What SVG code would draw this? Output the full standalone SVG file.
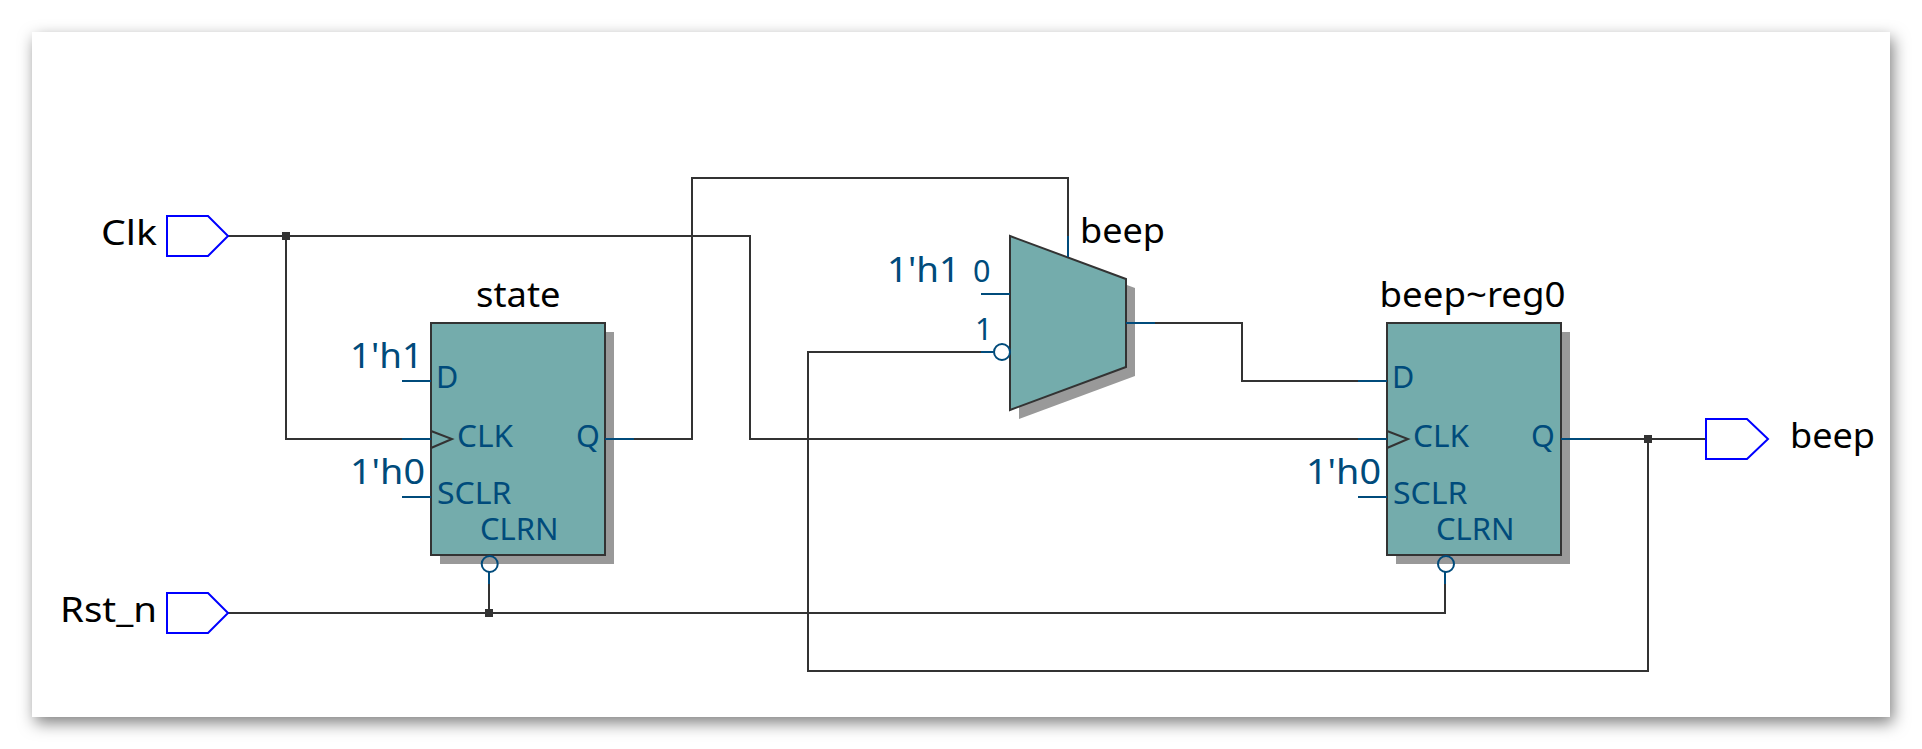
<svg xmlns="http://www.w3.org/2000/svg" width="1922" height="749" viewBox="0 0 1922 749">
<defs>
<filter id="pageShadow" x="-5%" y="-10%" width="110%" height="120%"><feDropShadow dx="3" dy="6" stdDeviation="8" flood-color="#000" flood-opacity="0.5"/></filter>
</defs>
<style>
text{font-family:"Noto Sans","Open Sans","Liberation Sans",sans-serif}
.name{font-size:35px;fill:#000}
.const{font-size:35px;fill:#004b7b}
.pin{font-size:30.500px;fill:#004b7b}
.wire{fill:none;stroke:#333;stroke-width:2}
.stub{fill:none;stroke:#004b7b;stroke-width:2}
.body{fill:#74acac;stroke:#333;stroke-width:2}
.shadow{fill:#999}
.port{fill:#fff;stroke:#00f;stroke-width:2}
.tri{fill:none;stroke:#333;stroke-width:2}
.bub{fill:none;stroke:#004b7b;stroke-width:2}
.dot{fill:#333}
</style>
<rect x="0" y="0" width="1922" height="749" fill="#fff"/>
<rect id="page" x="32" y="32" width="1858" height="685" fill="#fff" filter="url(#pageShadow)"/>
<g id="connectors">
<path class="wire" d="M228 236H750V439H1358"/>
<path class="wire" d="M286 236V439H402"/>
<path class="wire" d="M634 439H692V178H1068V236"/>
<path class="wire" d="M1155 323H1242V381H1358"/>
<path class="wire" d="M228 613H1445V584"/>
<path class="wire" d="M489 613V584"/>
<path class="wire" d="M1590 439H1706"/>
<path class="wire" d="M1648 439V671H808V352H981"/>
<rect class="dot" x="282" y="232" width="8" height="8"/>
<rect class="dot" x="485" y="609" width="8" height="8"/>
<rect class="dot" x="1644" y="435" width="8" height="8"/>
</g>
<g id="in-clk"><path class="port" d="M167 216H208L228 236L208 256H167Z"/><text class="name" x="101" y="245" textLength="56" lengthAdjust="spacingAndGlyphs">Clk</text></g>
<g id="in-rst"><path class="port" d="M167 593H208L228 613L208 633H167Z"/><text class="name" x="60" y="622" textLength="97" lengthAdjust="spacingAndGlyphs">Rst_n</text></g>
<g id="out-beep"><path class="port" d="M1706 419H1747L1768 439L1747 459H1706Z"/><text class="name" x="1790" y="448" textLength="85" lengthAdjust="spacingAndGlyphs">beep</text></g>
<g id="state">
<rect class="shadow" x="440" y="332" width="174" height="232"/>
<rect class="body" x="431" y="323" width="174" height="232"/>
<path class="stub" d="M402 381H431M402 439H431M402 497H431M605 439H634M489 572V584"/>
<path class="tri" d="M431 431L452 439L431 448"/>
<circle class="bub" cx="489.700" cy="564" r="8"/>
<text class="name" x="476" y="307" textLength="84.500" lengthAdjust="spacingAndGlyphs">state</text>
<text class="const" x="350" y="368" textLength="73" lengthAdjust="spacingAndGlyphs">1'h1</text>
<text class="const" x="350" y="484" textLength="75" lengthAdjust="spacingAndGlyphs">1'h0</text>
<text class="pin" x="436" y="388">D</text>
<text class="pin" x="457" y="447" textLength="56" lengthAdjust="spacingAndGlyphs">CLK</text>
<text class="pin" x="576" y="447">Q</text>
<text class="pin" x="437" y="504" textLength="74.500" lengthAdjust="spacingAndGlyphs">SCLR</text>
<text class="pin" x="480" y="540" textLength="78.500" lengthAdjust="spacingAndGlyphs">CLRN</text>
</g>
<g id="mux">
<path class="shadow" d="M1019 245L1135 288V376L1019 419Z"/>
<path class="body" d="M1010 236L1126 279V367L1010 410Z"/>
<path class="stub" d="M981 294H993M981 294H1010M981 352H993.500M1126 323H1155M1068 236V257"/>
<circle class="bub" cx="1002" cy="352" r="8"/>
<text class="name" x="1080" y="243" textLength="85" lengthAdjust="spacingAndGlyphs">beep</text>
<text class="const" x="887" y="282" textLength="73" lengthAdjust="spacingAndGlyphs">1'h1</text>
<text class="pin" x="973" y="282">0</text>
<text class="pin" x="975" y="340">1</text>
</g>
<g id="reg">
<rect class="shadow" x="1396" y="332" width="174" height="232"/>
<rect class="body" x="1387" y="323" width="174" height="232"/>
<path class="stub" d="M1358 381H1387M1358 439H1387M1358 497H1387M1561 439H1590M1445 572V584"/>
<path class="tri" d="M1387 431L1408 439L1387 448"/>
<circle class="bub" cx="1446" cy="564" r="8"/>
<text class="name" x="1379.500" y="307" textLength="186" lengthAdjust="spacingAndGlyphs">beep~reg0</text>
<text class="const" x="1306" y="484" textLength="75" lengthAdjust="spacingAndGlyphs">1'h0</text>
<text class="pin" x="1392" y="388">D</text>
<text class="pin" x="1413" y="447" textLength="56" lengthAdjust="spacingAndGlyphs">CLK</text>
<text class="pin" x="1531" y="447">Q</text>
<text class="pin" x="1393" y="504" textLength="74.500" lengthAdjust="spacingAndGlyphs">SCLR</text>
<text class="pin" x="1436" y="540" textLength="78.500" lengthAdjust="spacingAndGlyphs">CLRN</text>
</g>
</svg>
